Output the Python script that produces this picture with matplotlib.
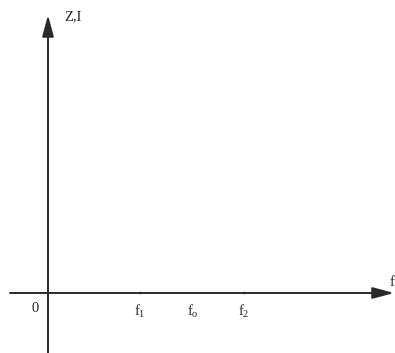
import matplotlib
matplotlib.use("Agg")
import matplotlib.pyplot as plt

plt.rcParams['font.family'] = ['Liberation Serif', 'DejaVu Serif']
plt.rcParams['mathtext.fontset'] = 'custom'
plt.rcParams['mathtext.rm'] = 'Liberation Serif'

# tick positions along the f axis (pixel-like units, origin at 0)
tick_labels = [r'$\mathrm{f_1}$', r'$\mathrm{f_o}$', r'$\mathrm{f_2}$']
tick_pos = [92, 145, 196]
marked = [True, False, True]

x_min, x_max = -48, 347
y_min, y_max = -60, 293

fig = plt.figure(figsize=(3.95, 3.53), dpi=100)
ax = fig.add_axes([0, 0, 1, 1])
ax.set_xlim(x_min, x_max)
ax.set_ylim(y_min, y_max)
ax.axis('off')

col = '#2a2a2a'
arrow = dict(arrowstyle='-|>,head_length=1.3,head_width=0.35', color=col, lw=1.4,
             shrinkA=0, shrinkB=0)
# horizontal f axis
ax.annotate('', xy=(346, 0), xytext=(-38, 0), arrowprops=arrow)
# vertical Z,I axis
ax.annotate('', xy=(0, 278), xytext=(0, y_min), arrowprops=arrow)

ax.text(16, 276, 'Z,I', fontsize=10.5, ha='left', va='center', color='#222222')
ax.text(346, 11, 'f', fontsize=10.5, ha='right', va='center', color='#222222')
ax.text(-13, -15, '0', fontsize=10.5, ha='center', va='center', color='#222222')

for lab, p, m in zip(tick_labels, tick_pos, marked):
    ax.text(p, -18, lab, fontsize=10.5, ha='center', va='center', color='#222222')
    if m:
        ax.plot([p, p], [0, 1.5], color=col, lw=1.0)

fig.savefig('out.png', dpi=100, facecolor='white')
